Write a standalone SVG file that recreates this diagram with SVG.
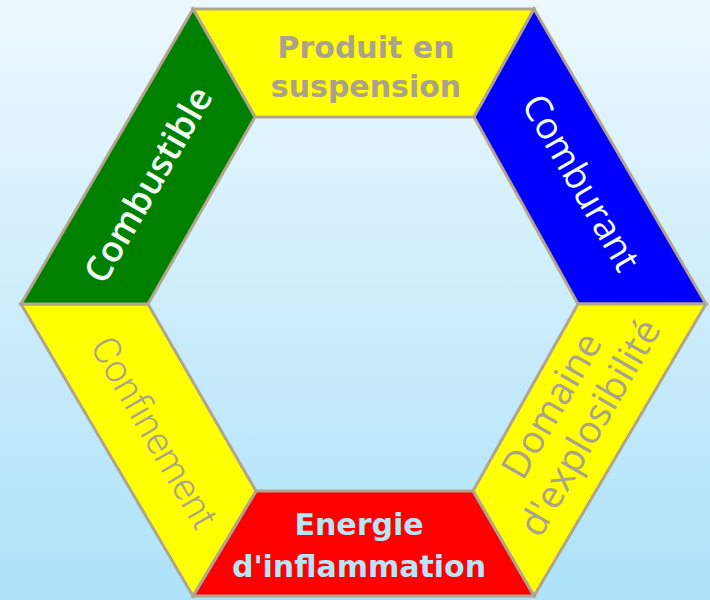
<svg xmlns="http://www.w3.org/2000/svg" width="710" height="600" viewBox="0 0 710 600">
<defs>
<linearGradient id="bg" x1="0" y1="0" x2="0" y2="1">
<stop offset="0" stop-color="#edf8fe"/>
<stop offset="1" stop-color="#ade2f8"/>
</linearGradient>
</defs>
<style>
.seg{stroke:#b2a58d;stroke-width:3;stroke-linejoin:miter}
.y{fill:#ffff00}.g{fill:#008000}.b{fill:#0000ff}.r{fill:#ff0000}
.t{text-anchor:middle}
.gray{fill:#aba18d}
.wh{fill:#f2fff2}
.lb{fill:#b8e6f8}
.hum{font-family:"Open Sans","DejaVu Sans",sans-serif}
.bold{font-family:"DejaVu Sans",sans-serif;font-weight:700;font-size:30px}
</style>
<rect width="710" height="600" fill="url(#bg)"/>
<g id="produit">
<polygon class="seg y" points="193,9 534,9 474,117 255,117"/>
<text class="t gray bold"><tspan x="366" y="58">Produit en</tspan><tspan x="366" y="97">suspension</tspan></text>
</g>
<g id="comburant">
<polygon class="seg b" points="534,9 706,304 578,304 474,117"/>
<text class="t wh hum" font-size="37" transform="translate(570,189) rotate(60)">Comburant</text>
</g>
<g id="domaine">
<polygon class="seg y" points="706,304 534,596 473,491 578,304"/>
<text class="t gray hum" font-size="38" transform="translate(563,412) rotate(-60)"><tspan x="0" y="0">Domaine</tspan><tspan x="0" y="44">d'explosibilité</tspan></text>
</g>
<g id="energie">
<polygon class="seg r" points="534,596 193,596 256,491 473,491"/>
<text class="t lb bold"><tspan x="359" y="535">Energie</tspan><tspan x="359" y="577">d'inflammation</tspan></text>
</g>
<g id="confinement">
<polygon class="seg y" points="193,596 21,304 148,304 256,491"/>
<text class="t gray" font-family="Roboto, sans-serif" font-weight="300" font-size="38" transform="translate(143,439) rotate(60)">Confinement</text>
</g>
<g id="combustible">
<polygon class="seg g" points="21,304 193,9 255,117 148,304"/>
<text class="t wh hum" font-size="36" font-weight="600" transform="translate(159,191) rotate(-60)">Combustible</text>
</g>
<g id="connectors"/>
</svg>
